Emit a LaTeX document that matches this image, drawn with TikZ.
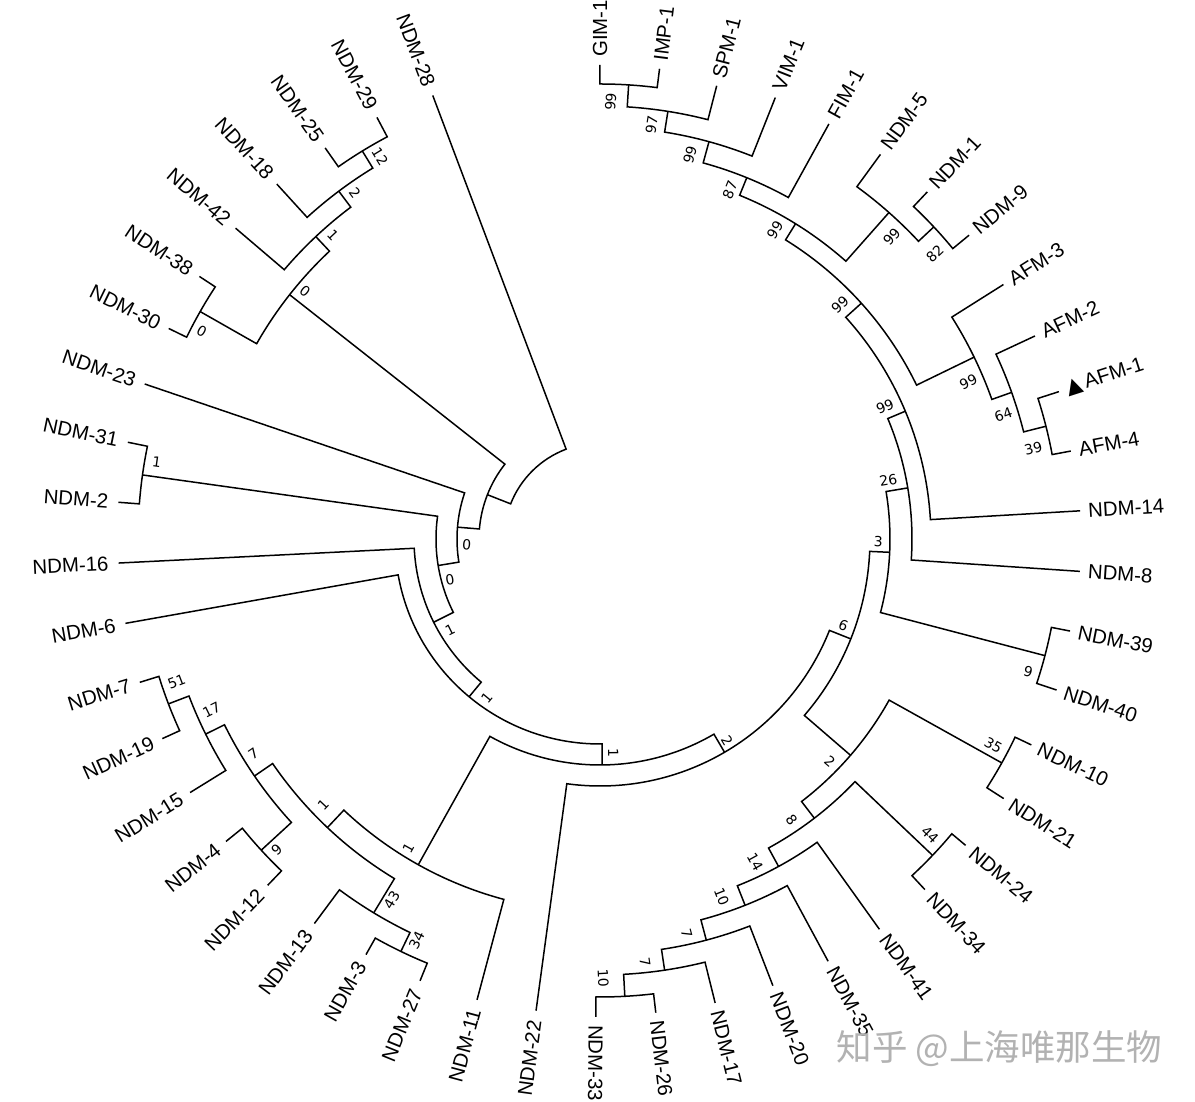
\documentclass[tikz,border=0pt]{standalone}
\usepackage{fontspec}
\setmainfont{Liberation Sans}
\newfontfamily\bsfont{DejaVu Sans}
\newfontfamily\symfont{DejaVu Sans}
\newfontfamily\cjkfont{Noto Sans CJK SC}

\newcommand\setnd[3]{\expandafter\xdef\csname ndth#1\endcsname{#2}\expandafter\xdef\csname ndr#1\endcsname{#3}}
\newcommand\ndth[1]{\csname ndth#1\endcsname}

% leaf: name, index, tip radius, text
\newcommand\leafnode[4]{%
  \pgfmathsetmacro\tmpth{90-7.22*#2}%
  \setnd{#1}{\tmpth}{#3}%
  \coordinate (#1) at (\tmpth:#3pt);%
  \pgfmathtruncatemacro\side{\tmpth>-92}%
  \ifnum\side=1
    \pgfmathsetmacro\tmpr{#3+8}%
    \node[leaflab,anchor=west,rotate=\tmpth] (t#1) at (\tmpth:\tmpr pt) {#4};%
  \else
    \pgfmathsetmacro\tmpr{#3+10}%
    \pgfmathsetmacro\tmprot{\tmpth+180}%
    \node[leaflab,anchor=east,rotate=\tmprot] (t#1) at (\tmpth:\tmpr pt) {#4};%
  \fi}

% internal node: name, child1, child2, radius
\newcommand\innode[4]{%
  \edef\thA{\ndth{#2}}\edef\thB{\ndth{#3}}%
  \pgfmathsetmacro\tmpth{(\thA+\thB)/2}%
  \setnd{#1}{\tmpth}{#4}%
  \coordinate (#1) at (\tmpth:#4pt);%
  \draw[branch] (#2) -- (\thA:#4pt) arc[start angle=\thA, end angle=\thB, radius=#4pt] -- (#3);}

% bootstrap label: node, pixel x, pixel y, text
\newcommand\bs[4]{%
  \edef\thA{\ndth{#1}}%
  \pgfmathtruncatemacro\side{\thA>-92}%
  \ifnum\side=1 \pgfmathsetmacro\tmprot{\thA}\else\pgfmathsetmacro\tmprot{\thA+180}\fi
  \pgfmathsetmacro\bx{#2-600}\pgfmathsetmacro\by{539-#3}%
  \node[bslab,rotate=\tmprot] (b#1) at (\bx pt,\by pt) {#4};}

\tikzset{
  branch/.style={line width=1.5pt, line join=miter},
  leaflab/.style={inner sep=0pt, font=\fontsize{20.4}{24}\selectfont},
  bslab/.style={inner sep=0pt, font=\bsfont\fontsize{14}{16}\selectfont},
  wmark/.style={inner sep=0pt, text=black!30, font=\cjkfont\fontsize{35.5}{38}\selectfont}
}

\begin{document}
\begin{tikzpicture}
\fill[white] (-600pt,-563pt) rectangle (595pt,539pt);
\useasboundingbox (-600pt,-563pt) rectangle (595pt,539pt);

% leaves
\leafnode{gim1}{0}{474}{GIM-1}
\leafnode{imp1}{1}{474}{IMP-1}
\leafnode{spm1}{2}{468}{SPM-1}
\leafnode{vim1}{3}{475}{VIM-1}
\leafnode{fim1}{4}{474}{FIM-1}
\leafnode{n5}{5}{476}{NDM-5}
\leafnode{n1}{6}{477}{NDM-1}
\leafnode{n9}{7}{478}{NDM-9}
\leafnode{afm3}{8}{477}{AFM-3}
\leafnode{afm2}{9}{480}{AFM-2}
\leafnode{afm1}{10}{482}{{\symfont\fontsize{21}{24}\selectfont ▲}\hspace{3pt}AFM-1}
\leafnode{afm4}{11}{479}{AFM-4}
\leafnode{n14}{12}{481}{NDM-14}
\leafnode{n8}{13}{481}{NDM-8}
\leafnode{n39}{14}{479}{NDM-39}
\leafnode{n40}{15}{481}{NDM-40}
\leafnode{n10}{16}{478}{NDM-10}
\leafnode{n21}{17}{480}{NDM-21}
\leafnode{n24}{18}{477}{NDM-24}
\leafnode{n34}{19}{478}{NDM-34}
\leafnode{n41}{20}{480}{NDM-41}
\leafnode{n35}{21}{480}{NDM-35}
\leafnode{n20}{22}{479}{NDM-20}
\leafnode{n17}{23}{478}{NDM-17}
\leafnode{n26}{24}{477}{NDM-26}
\leafnode{n33}{25}{478}{NDM-33}
\leafnode{n22}{26}{476}{NDM-22}
\leafnode{n11}{27}{477}{NDM-11}
\leafnode{n27}{28}{477}{NDM-27}
\leafnode{n3}{29}{477}{NDM-3}
\leafnode{n13}{30}{479}{NDM-13}
\leafnode{n12}{31}{480}{NDM-12}
\leafnode{n4}{32}{481}{NDM-4}
\leafnode{n15}{33}{482}{NDM-15}
\leafnode{n19}{34}{481}{NDM-19}
\leafnode{n7}{35}{482}{NDM-7}
\leafnode{n6}{36}{482}{NDM-6}
\leafnode{n16}{37}{482}{NDM-16}
\leafnode{n2}{38}{483}{NDM-2}
\leafnode{n31}{39}{482}{NDM-31}
\leafnode{n23}{40}{481}{NDM-23}
\leafnode{n30}{41}{480}{NDM-30}
\leafnode{n38}{42}{479}{NDM-38}
\leafnode{n42}{43}{479}{NDM-42}
\leafnode{n18}{44}{480}{NDM-18}
\leafnode{n25}{45}{478}{NDM-25}
\leafnode{n29}{46}{477}{NDM-29}
\leafnode{n28}{47}{474}{NDM-28}

% internal nodes
\innode{a99a}{gim1}{imp1}{455}
\innode{a97}{a99a}{spm1}{433}
\innode{a99b}{a97}{vim1}{412}
\innode{a87}{a99b}{fim1}{390}
\innode{a82}{n1}{n9}{457}
\innode{a99d}{n5}{a82}{436}
\innode{a99c}{a87}{a99d}{371}
\innode{a39}{afm1}{afm4}{460}
\innode{a64}{afm2}{a39}{437}
\innode{a99f}{afm3}{a64}{416}
\innode{a99g}{a99c}{a99f}{352}
\innode{a99h}{a99g}{n14}{331}
\innode{a26}{a99h}{n8}{312}
\innode{a9r}{n39}{n40}{460}
\innode{a3}{a26}{a9r}{290}
\innode{a35}{n10}{n21}{460}
\innode{a44}{n24}{n34}{459}
\innode{a10a}{n26}{n33}{458}
\innode{a7a}{n17}{a10a}{436}
\innode{a7b}{n20}{a7a}{415}
\innode{a10b}{n35}{a7b}{394}
\innode{a14}{n41}{a10b}{373}
\innode{a8}{a44}{a14}{352}
\innode{a2a}{a35}{a8}{331}
\innode{a6}{a3}{a2a}{270}
\innode{a2b}{a6}{n22}{247}
\innode{a34}{n27}{n3}{458}
\innode{a43}{a34}{n13}{437}
\innode{a51}{n19}{n7}{462}
\innode{a17}{n15}{a51}{440}
\innode{a9l}{n12}{n4}{460}
\innode{a7}{a9l}{a17}{419}
\innode{a1e}{a43}{a7}{397}
\innode{a1c}{n11}{a1e}{373}
\innode{a1b}{a2b}{a1c}{226}
\innode{a1f}{a1b}{n6}{205}
\innode{a1g}{a1f}{n16}{186}
\innode{a1h}{n2}{n31}{462}
\innode{a0b2}{a1g}{a1h}{164}
\innode{a0c}{a0b2}{n23}{143}
\innode{a12}{n25}{n29}{455}
\innode{a2u}{n18}{a12}{435}
\innode{a1u}{n42}{a2u}{415}
\innode{a0a}{n30}{n38}{460}
\innode{a0b}{a0a}{a1u}{395}
\innode{a0d}{a0c}{a0b}{121}
\innode{root}{a0d}{n28}{96}

% bootstrap values
\bs{a99a}{610.7}{101.7}{99}
\bs{a97}{651.7}{125}{97}
\bs{a99b}{690}{155}{99}
\bs{a87}{730}{190}{87}
\bs{a99c}{775}{230}{99}
\bs{a99d}{891.7}{236.7}{99}
\bs{a82}{935}{253.3}{82}
\bs{a99g}{840}{305}{99}
\bs{a99f}{968.3}{381.7}{99}
\bs{a64}{1003.3}{415}{64}
\bs{a39}{1033.3}{448.3}{39}
\bs{a99h}{885}{406.7}{99}
\bs{a26}{888.3}{480}{26}
\bs{a3}{878.3}{541.7}{3}
\bs{a9r}{1028.3}{671.7}{9}
\bs{a6}{843.3}{625}{6}
\bs{a35}{993.3}{745}{35}
\bs{a2a}{830}{761.7}{2}
\bs{a44}{930}{835}{44}
\bs{a8}{791.7}{820}{8}
\bs{a14}{755}{861.7}{14}
\bs{a10b}{721.7}{896.7}{10}
\bs{a7b}{686.7}{933.3}{7}
\bs{a7a}{645}{961.7}{7}
\bs{a10a}{603.3}{978.3}{10}
\bs{a1b}{613.3}{753.3}{1}
\bs{a2b}{727}{741}{2}
\bs{a1c}{408.3}{848.3}{1}
\bs{a34}{416.7}{940}{34}
\bs{a7}{253.3}{753.3}{7}
\bs{a1e}{323.3}{805}{1}
\bs{a9l}{276.7}{850}{9}
\bs{a43}{391.7}{900}{43}
\bs{a1h}{156.7}{461.7}{1}
\bs{a51}{176.7}{681.7}{51}
\bs{a17}{211.7}{710}{17}
\bs{a0c}{466.7}{545}{0}
\bs{a0b2}{450}{580}{0}
\bs{a1g}{450}{630}{1}
\bs{a1f}{486.7}{698.3}{1}
\bs{a12}{380}{156.7}{12}
\bs{a2u}{355}{193}{2}
\bs{a1u}{333}{235}{1}
\bs{a0b}{305}{291.7}{0}
\bs{a0a}{201.7}{331.7}{0}

% watermark
\node[wmark] (wm) at (399.5pt,-510pt) {知乎 @上海唯那生物};
\end{tikzpicture}
\end{document}
